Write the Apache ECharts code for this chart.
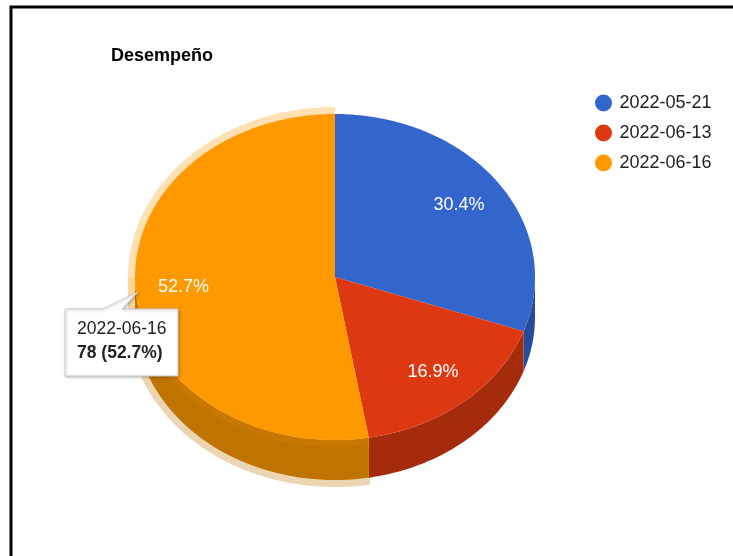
<!DOCTYPE html>
<html>
<head>
<meta charset="utf-8">
<script src="https://cdn.jsdelivr.net/npm/echarts@6/dist/echarts.min.js"></script>
<style>
  html, body { margin: 0; padding: 0; background: #fff; }
  #chart { width: 733px; height: 556px; }
</style>
</head>
<body>
<div id="chart"></div>
<script>
const dates = ['2022-05-21', '2022-06-13', '2022-06-16'];
const values = [45, 25, 78];
const colors = ['#3366cc', '#dc3912', '#ff9900'];
const sideColors = ['#264c99', '#a52b0d', '#bf7300'];
const hovered = 2;

// geometria del pastel 3d
const cx = 335, cy = 277, rx = 200, ry = 163, depth = 40, halo = 7;
const font = '"Liberation Sans", Arial, sans-serif';

const total = values.reduce((a, b) => a + b, 0);
const pct = (v) => (v / total * 100).toFixed(1) + '%';

function arc(a0, a1, ax, ay, dy) {
  const pts = [];
  const n = Math.max(2, Math.ceil(Math.abs(a1 - a0)));
  for (let k = 0; k <= n; k++) {
    const t = (a0 + (a1 - a0) * k / n) * Math.PI / 180;
    pts.push([cx + ax * Math.sin(t), cy - ay * Math.cos(t) + dy]);
  }
  return pts;
}

function renderSlice(params, api) {
  const i = params.seriesIndex;
  let before = 0;
  for (let k = 0; k < i; k++) before += values[k];
  const a0 = before / total * 360;
  const a1 = (before + api.value(0)) / total * 360;
  const children = [];
  const s = Math.max(a0, 90), e = Math.min(a1, 270);
  const hasSide = e > s;

  if (i === hovered) {
    if (hasSide) {
      children.push({
        type: 'polygon', z2: 0,
        shape: { points: arc(s, e, rx + halo, ry + halo, 0).concat(arc(e, s, rx + halo, ry + halo, depth)) },
        style: { fill: 'rgba(191,115,0,0.3)' }
      });
    }
    children.push({
      type: 'polygon', z2: 0,
      shape: { points: [[cx, cy]].concat(arc(a0, a1, rx + halo, ry + halo, 0)) },
      style: { fill: 'rgba(255,153,0,0.3)' }
    });
  }
  if (hasSide) {
    children.push({
      type: 'polygon', z2: 2,
      shape: { points: arc(s, e, rx, ry, 0).concat(arc(e, s, rx, ry, depth)) },
      style: { fill: sideColors[i] }
    });
    if (i === hovered) {
      children.push({
        type: 'polygon', z2: 3,
        shape: { points: arc(s, e, rx + halo, ry + halo, 0).concat(arc(e, s, rx, ry, 0)) },
        style: { fill: 'rgba(255,153,0,0.15)' }
      });
    }
  }
  children.push({
    type: 'polygon', z2: 10,
    shape: { points: [[cx, cy]].concat(arc(a0, a1, rx, ry, 0)) },
    style: { fill: colors[i] }
  });
  const m = (a0 + a1) / 2 * Math.PI / 180;
  children.push({
    type: 'text', z2: 20,
    x: cx + 0.76 * rx * Math.sin(m),
    y: cy - 0.76 * ry * Math.cos(m),
    style: {
      text: pct(api.value(0)), fill: '#fff', fontSize: 18, fontFamily: font,
      align: 'center', verticalAlign: 'middle'
    }
  });
  return { type: 'group', children: children };
}

const chart = echarts.init(document.getElementById('chart'));
chart.setOption({
  animation: false,
  color: colors,
  title: {
    text: 'Desempeño', left: 106, top: 42,
    textStyle: { fontFamily: font, fontSize: 18, fontWeight: 'bold', color: '#000' }
  },
  legend: {
    orient: 'vertical', left: 590, top: 89,
    icon: 'circle', itemWidth: 22, itemHeight: 17, itemGap: 12,
    data: dates,
    textStyle: { fontFamily: font, fontSize: 18, color: '#222' }
  },
  series: dates.map((d, i) => ({
    type: 'custom',
    name: d,
    coordinateSystem: 'none',
    itemStyle: { color: colors[i] },
    data: [[values[i]]],
    renderItem: renderSlice
  })),
  graphic: [
    {
      type: 'polyline', silent: true,
      shape: { points: [[11, 700], [11, 7], [900, 7]] },
      style: { stroke: '#000', lineWidth: 3 }
    },
    {
      type: 'polygon', z: 50,
      shape: { points: [[65, 309], [103, 309], [138, 292], [122, 309], [178, 309], [178, 376], [65, 376]] },
      style: { fill: '#fff', stroke: '#cccccc', lineWidth: 1, shadowBlur: 3, shadowColor: 'rgba(0,0,0,0.25)', shadowOffsetX: 1, shadowOffsetY: 1 }
    },
    {
      type: 'text', z: 51, left: 77, top: 320,
      style: { text: dates[hovered], fill: '#222', fontSize: 17.5, fontFamily: font }
    },
    {
      type: 'text', z: 51, left: 77, top: 344,
      style: { text: values[hovered] + ' (' + pct(values[hovered]) + ')', fill: '#222', fontSize: 17.5, fontWeight: 'bold', fontFamily: font }
    }
  ]
});
window.addEventListener('resize', () => chart.resize());
</script>
</body>
</html>
